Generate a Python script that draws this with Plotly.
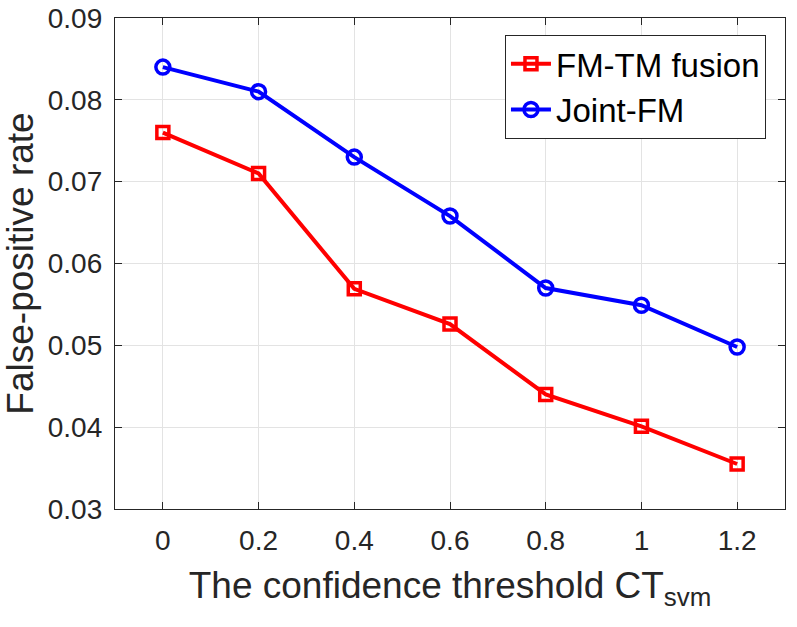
import plotly.graph_objects as go

x_vals = [0, 0.2, 0.4, 0.6, 0.8, 1.0, 1.2]
fm_tm_fusion = [0.0760, 0.0710, 0.0569, 0.0526, 0.0440, 0.0401, 0.0355]
joint_fm = [0.0840, 0.0810, 0.0730, 0.0658, 0.0570, 0.0549, 0.0498]
x_ticks = [0, 0.2, 0.4, 0.6, 0.8, 1.0, 1.2]
x_tick_text = ["0", "0.2", "0.4", "0.6", "0.8", "1", "1.2"]
y_ticks = [0.03, 0.04, 0.05, 0.06, 0.07, 0.08, 0.09]
y_tick_text = ["0.03", "0.04", "0.05", "0.06", "0.07", "0.08", "0.09"]

FONT = "Liberation Sans, Arial, Helvetica, sans-serif"
DARK = "#262626"

fig = go.Figure()
fig.add_trace(go.Scatter(
    x=x_vals, y=fm_tm_fusion, name="FM-TM fusion", mode="lines+markers",
    line=dict(color="#ff0000", width=4),
    marker=dict(symbol="square-open", size=12, color="#ff0000", line=dict(width=3.5, color="#ff0000")),
))
fig.add_trace(go.Scatter(
    x=x_vals, y=joint_fm, name="Joint-FM", mode="lines+markers",
    line=dict(color="#0000ff", width=4),
    marker=dict(symbol="circle-open", size=14, color="#0000ff", line=dict(width=3.5, color="#0000ff")),
))

axis_common = dict(
    showline=True, linecolor=DARK, linewidth=1.3, mirror="ticks",
    ticks="inside", ticklen=7, tickwidth=1.3, tickcolor=DARK,
    showgrid=True, gridcolor="#e3e3e3", gridwidth=1,
    zeroline=False, tickfont=dict(family=FONT, size=28, color=DARK),
    automargin=False,
)

fig.update_layout(
    width=797, height=627,
    margin=dict(l=115, r=12, t=18, b=118),
    paper_bgcolor="white", plot_bgcolor="white",
    font=dict(family=FONT, color=DARK),
    xaxis=dict(
        range=[-0.1, 1.3], tickvals=x_ticks, ticktext=x_tick_text,
        title=dict(text="The confidence threshold CT<sub>svm</sub>",
                   font=dict(family=FONT, size=37, color=DARK), standoff=17),
        ticklabelstandoff=6,
        **axis_common,
    ),
    yaxis=dict(
        range=[0.03, 0.09], tickvals=y_ticks, ticktext=y_tick_text,
        title=dict(text="False-positive rate",
                   font=dict(family=FONT, size=37, color=DARK), standoff=5),
        ticklabelstandoff=6,
        **axis_common,
    ),
    legend=dict(
        x=0.9716, y=0.966, xanchor="right", yanchor="top",
        bgcolor="white", bordercolor=DARK, borderwidth=1,
        font=dict(family=FONT, size=33, color="black"),
        itemwidth=40, tracegroupgap=0,
    ),
    showlegend=True,
)

fig.write_html("out.html")
